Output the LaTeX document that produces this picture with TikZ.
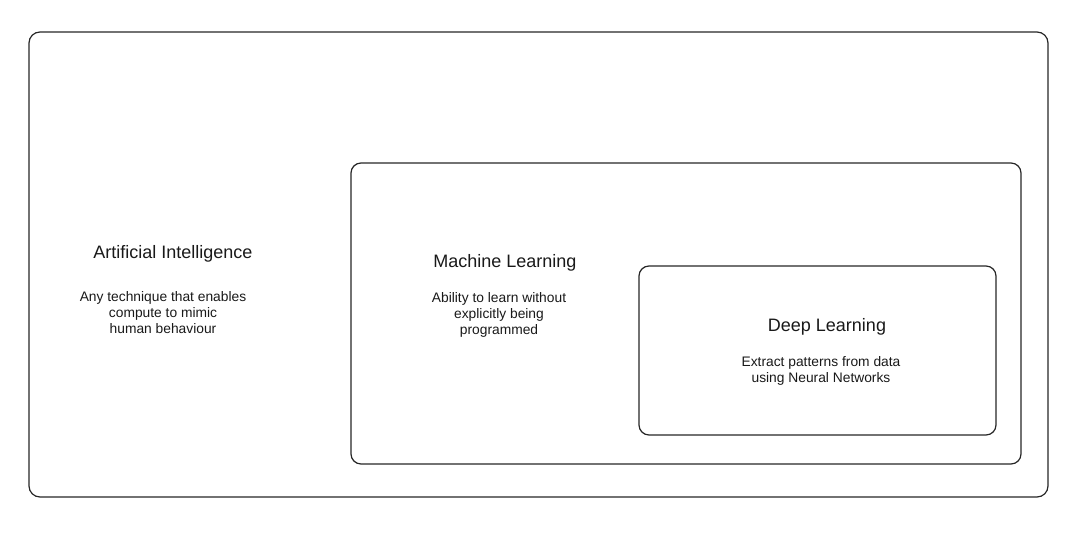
\documentclass[tikz,border=0pt]{standalone}
\usepackage{fontspec}
\setmainfont{Liberation Sans}
\begin{document}
\begin{tikzpicture}[x=1pt,y=-1pt,
  box/.style={draw=black!85, line width=1.2pt, rounded corners=11pt},
  title/.style={font=\fontsize{18}{20}\selectfont, align=center, text=black!90},
  body/.style={font=\fontsize{13.8}{16}\selectfont, align=center, text=black!90}]
\useasboundingbox (0,0) rectangle (1079,548);
\draw[box] (29,32) rectangle (1048,497);
\draw[box, rounded corners=10pt] (351,163) rectangle (1021,464);
\draw[box, rounded corners=10pt] (639,266) rectangle (996,435);
\node[title] (ai) at (173,254) {Artificial Intelligence};
\node[body] (aib) at (163,313) {Any technique that enables\\compute to mimic\\human behaviour};
\node[title] (ml) at (505,263) {Machine Learning};
\node[body] (mlb) at (499,315) {Ability to learn without\\explicitly being\\programmed};
\node[title] (dl) at (827,327) {Deep Learning};
\node[body] (dlb) at (821,371) {Extract patterns from data\\using Neural Networks};
\end{tikzpicture}
\end{document}
